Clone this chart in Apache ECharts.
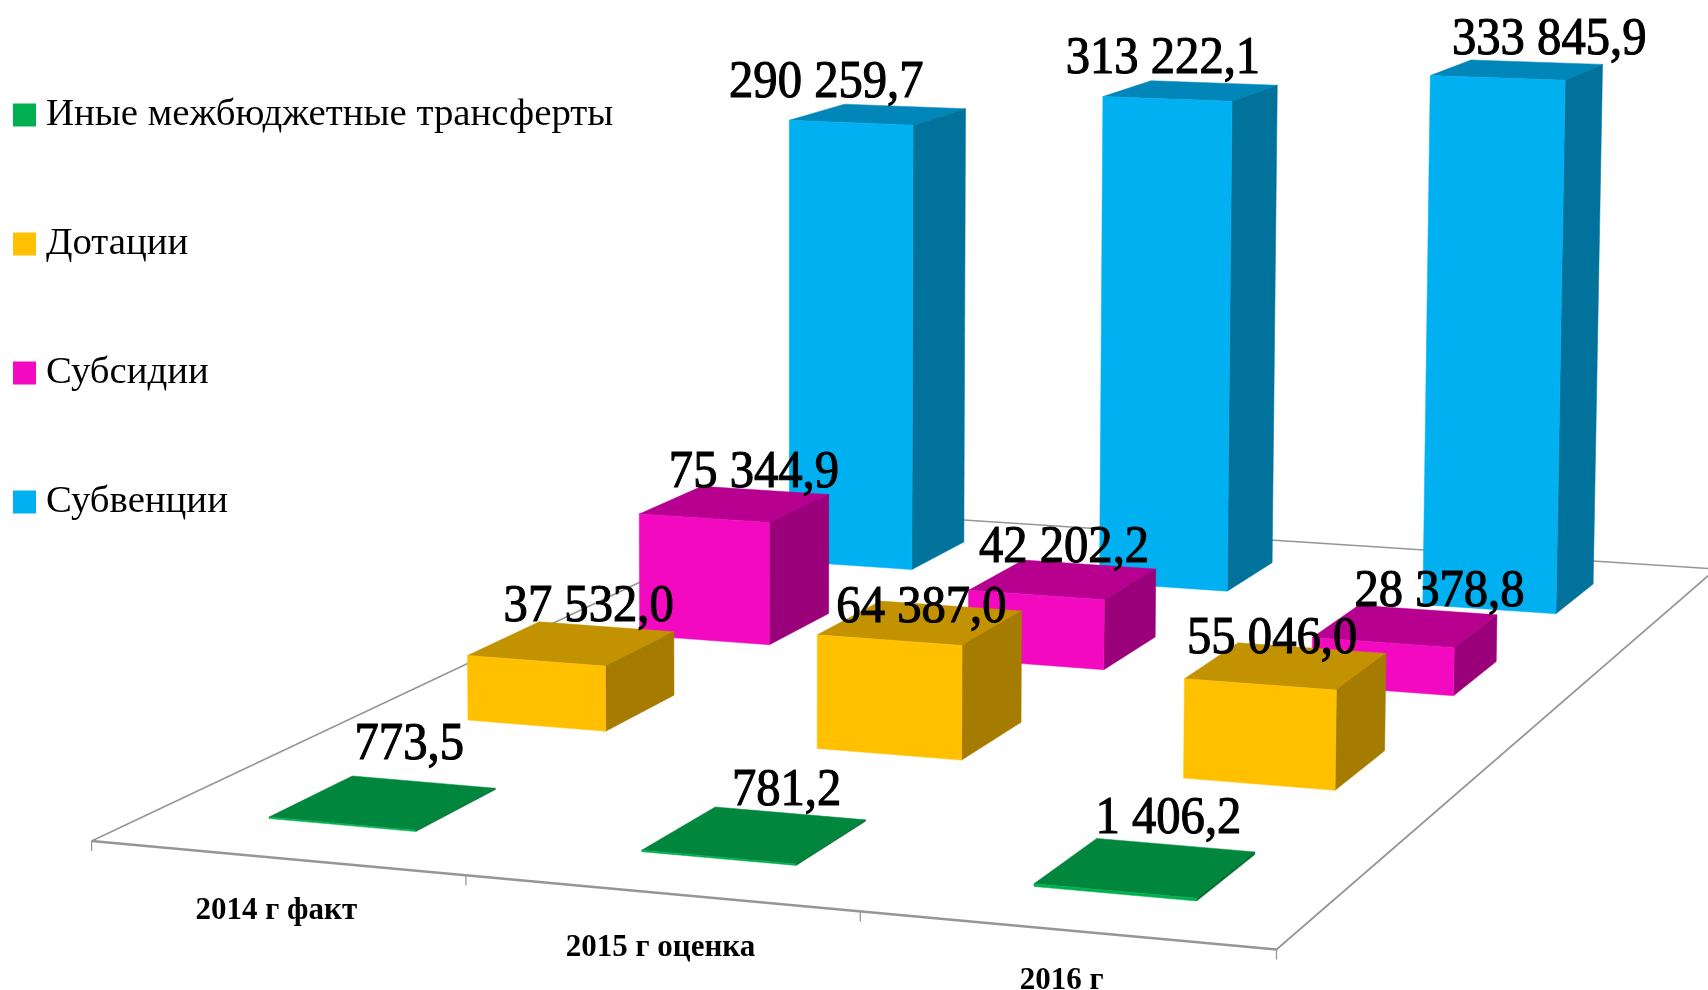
<!DOCTYPE html>
<html><head><meta charset="utf-8">
<style>html,body{margin:0;padding:0;background:#fff}#c{width:1708px;height:990px}</style>
<script src="https://cdn.jsdelivr.net/npm/echarts@6/dist/echarts.min.js"></script>
</head><body><div id="c"></div>
<script>
const categories = ['2014 г факт', '2015 г оценка', '2016 г'];
const seriesNames = ['Иные межбюджетные трансферты', 'Дотации', 'Субсидии', 'Субвенции'];
const otherTransfers = [773.5, 781.2, 1406.2];
const dotations = [37532.0, 64387.0, 55046.0];
const subsidies = [75344.9, 42202.2, 28378.8];
const subventions = [290259.7, 313222.1, 333845.9];
const seriesValues = [otherTransfers, dotations, subsidies, subventions];

// face colours: front, top, side
const palette = [
  ['#00B050', '#00863D', '#006F32'],
  ['#FFC000', '#C29200', '#A67C00'],
  ['#F30AC0', '#B70090', '#99007A'],
  ['#00B0F0', '#0086B8', '#00729C']
];
// manual label placement, screen px from the centre of each bar's top face
const labelNudges = [
  [[27, -57], [33, -43], [24, -48]],
  [[18, -36], [2, -14], [-13, -27]],
  [[20, -31], [2, -31], [35, -34]],
  [[-51, -31], [-27, -31], [33, -30]]
];
const categoryDrop = [53, 55, 51];
const categoryShift = [0, 0, -4];

// Perspective camera: floor corners (front-left, front-right, back-right, back-left)
const floor = { fl: [91.6, 841], fr: [1276.5, 949.5], br: [1716, 569], bl: [795, 509] };
const vanish = [790, 45000];
const heightGain = 0.766;
const barSpan = 0.4;
const barShift = 0.003;
const uCount = categories.length, vCount = seriesNames.length;

const det = (p, q) => p[0] * q[1] - p[1] * q[0];
const dx1 = [floor.fr[0] - floor.br[0], floor.fr[1] - floor.br[1]];
const dx2 = [floor.bl[0] - floor.br[0], floor.bl[1] - floor.br[1]];
const sum = [floor.fl[0] - floor.fr[0] + floor.br[0] - floor.bl[0], floor.fl[1] - floor.fr[1] + floor.br[1] - floor.bl[1]];
const g = det(sum, dx2) / det(dx1, dx2), h = det(dx1, sum) / det(dx1, dx2);
const ha = [0, 1].map(i => floor.fr[i] - floor.fl[i] + g * floor.fr[i]);
const hb = [0, 1].map(i => floor.bl[i] - floor.fl[i] + h * floor.bl[i]);
const A = -heightGain / (vanish[1] - 500);

function project(u, v, hp) {
  const s = u / uCount, t = v / vCount, e = A * hp;
  const w = 1 + g * s + h * t + e;
  return [
    (ha[0] * s + hb[0] * t + floor.fl[0] + e * vanish[0]) / w,
    (ha[1] * s + hb[1] * t + floor.fl[1] + e * vanish[1]) / w
  ];
}
const fmt = v => {
  const [a, b] = v.toFixed(1).split('.');
  return a.replace(/\B(?=(\d{3})+$)/g, ' ') + ',' + b;
};
// read (u, height-in-px) from the hidden cartesian scales
function scaled(api) {
  const p = api.coord([api.value(0), api.value(1)]);
  const base = api.coord([api.value(0), 0]);
  const band = api.size([1, 0])[0];
  return { u: p[0] / band, hp: base[1] - p[1] };
}
const poly = (pts, fill) => ({ type: 'polygon', shape: { points: pts }, style: { fill, stroke: fill, lineWidth: 0.5 } });

function barRender(depth) {
  return (params, api) => {
    const { u, hp } = scaled(api), c = palette[depth], d = barSpan / 2, v = depth + 0.5;
    const P = (a, b, z) => project(u + barShift + a, v + b, z);
    return { type: 'group', children: [
      poly([P(-d, -d, hp), P(d, -d, hp), P(d, d, hp), P(-d, d, hp)], c[1]),
      poly([P(d, -d, 0), P(d, d, 0), P(d, d, hp), P(d, -d, hp)], c[2]),
      poly([P(-d, -d, 0), P(d, -d, 0), P(d, -d, hp), P(-d, -d, hp)], c[0])
    ] };
  };
}
function labelRender(depth) {
  return (params, api) => {
    const { u, hp } = scaled(api);
    const top = project(u, depth + 0.5, hp), n = labelNudges[depth][params.dataIndex];
    return { type: 'text', x: top[0] + n[0], y: top[1] + n[1], scaleX: 0.935,
      style: { x: 0, y: 0, text: fmt(api.value(1)), fill: '#000', stroke: '#000', lineWidth: 1.1,
        font: '52px "Liberation Serif"', textAlign: 'center', textVerticalAlign: 'middle' } };
  };
}
function floorRender(params, api) {
  const line = (a, b, lw) => ({ type: 'line', shape: { x1: a[0], y1: a[1], x2: b[0], y2: b[1] },
    style: { stroke: '#969696', lineWidth: lw } });
  const kids = [
    line(floor.fl, floor.bl, 1.5), line(floor.fr, floor.br, 1.8), line(floor.bl, floor.br, 1.5), line(floor.fl, floor.fr, 2.4)
  ];
  for (let i = 0; i <= uCount; i++) {
    const p = project(i, 0, 0);
    kids.push(line(p, [p[0], p[1] + 10], 1.3));
  }
  return { type: 'group', children: kids };
}
function categoryRender(params, api) {
  const i = params.dataIndex, p = project(i + 0.5, 0, 0);
  return { type: 'text', x: p[0] + categoryShift[i], y: p[1] + categoryDrop[i],
    style: { x: 0, y: 0, text: categories[i], fill: '#000', font: 'bold 31px "Liberation Serif"',
      textAlign: 'center', textVerticalAlign: 'middle' } };
}

const series = [
  { type: 'custom', name: 'floor', z: 1, data: [[0, 0]], renderItem: floorRender, silent: true },
  { type: 'custom', name: 'categories', z: 1, data: categories.map((c, i) => [i, 0]), renderItem: categoryRender, silent: true }
];
[3, 2, 1, 0].forEach(d => series.push({
  type: 'custom', name: seriesNames[d], z: 5 - d + 1, itemStyle: { color: palette[d][0] },
  data: seriesValues[d].map((v, i) => [i, v]), encode: { x: 0, y: 1 }, renderItem: barRender(d)
}));
[3, 2, 1, 0].forEach(d => series.push({
  type: 'custom', name: seriesNames[d], z: 20, itemStyle: { color: palette[d][0] },
  data: seriesValues[d].map((v, i) => [i, v]), encode: { x: 0, y: 1 }, renderItem: labelRender(d)
}));

const chart = echarts.init(document.getElementById('c'));
chart.setOption({
  animation: false,
  backgroundColor: '#fff',
  grid: { left: 0, right: 0, top: 0, bottom: 0 },
  xAxis: { type: 'category', data: categories, show: false },
  yAxis: { type: 'value', min: 0, max: 400000, show: false },
  legend: {
    data: seriesNames, orient: 'vertical', left: 13, top: 95.5, itemWidth: 23, itemHeight: 23, itemGap: 90,
    icon: 'rect', padding: 0,
    textStyle: { fontFamily: 'Liberation Serif', fontSize: 38.8, color: '#000', padding: [0, 0, 0, 5] }
  },
  series
});
</script></body></html>
